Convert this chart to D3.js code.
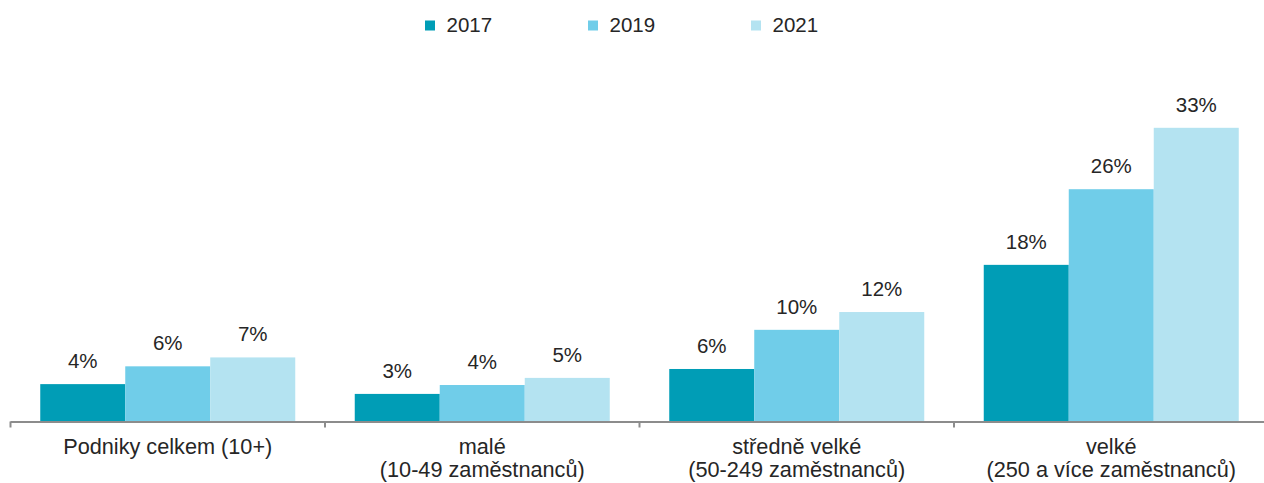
<!DOCTYPE html>
<html><head><meta charset="utf-8">
<script src="https://cdn.jsdelivr.net/npm/d3@7"></script>
<style>
html,body{margin:0;padding:0;background:#fff;}
svg{display:block;font-family:"Liberation Sans",Arial,sans-serif;}
</style></head>
<body>
<svg id="chart" width="1264" height="483"></svg>
<script>
const categories = [
  ["Podniky celkem (10+)"],
  ["malé", "(10-49 zaměstnanců)"],
  ["středně velké", "(50-249 zaměstnanců)"],
  ["velké", "(250 a více zaměstnanců)"]
];
const seriesNames = ["2017", "2019", "2021"];
const v2017 = [4.2, 3.1, 5.9, 17.6];
const v2019 = [6.2, 4.1, 10.3, 26.1];
const v2021 = [7.2, 4.9, 12.3, 33.0];
const seriesValues = [v2017, v2019, v2021];
const colors = ["#009db6", "#70cde9", "#b4e3f1"];

const svg = d3.select("#chart");
const textColor = "#262626";
const baseY = 421.5;

const catKeys = categories.map(c => c.join(" "));
const x0 = d3.scaleBand().domain(catKeys).range([10.5, 1268.5]).paddingInner(0).paddingOuter(0);
const x1 = d3.scaleBand().domain(seriesNames).range([0, x0.bandwidth()]).paddingInner(0).paddingOuter(0.35);
const y = d3.scaleLinear().domain([0, 35]).range([baseY, baseY - 35 * 8.9]);

const groups = svg.selectAll("g.grp").data(catKeys).join("g")
  .attr("class", "grp")
  .attr("transform", d => `translate(${x0(d)},0)`);

groups.each(function(cat, ci) {
  const g = d3.select(this);
  seriesNames.forEach((s, si) => {
    const v = seriesValues[si][ci];
    g.append("rect")
      .attr("x", x1(s))
      .attr("width", x1.bandwidth())
      .attr("y", y(v))
      .attr("height", y(0) - y(v))
      .attr("fill", colors[si]);
    g.append("text")
      .attr("x", x1(s) + x1.bandwidth() / 2)
      .attr("y", y(v) - 16)
      .attr("text-anchor", "middle")
      .attr("font-size", 20.5)
      .attr("fill", textColor)
      .text(Math.round(v) + "%");
  });
});

// axis line
svg.append("line")
  .attr("x1", x0.range()[0]).attr("x2", 1264)
  .attr("y1", baseY + 0.5).attr("y2", baseY + 0.5)
  .attr("stroke", "#8c8c8c").attr("stroke-width", 2);

// ticks at category boundaries
const tickXs = catKeys.map(c => x0(c)).concat([x0.range()[1]]);
svg.selectAll("line.tick").data(tickXs).join("line")
  .attr("class", "tick")
  .attr("x1", d => d).attr("x2", d => d)
  .attr("y1", baseY).attr("y2", baseY + 6)
  .attr("stroke", "#8c8c8c").attr("stroke-width", 2);

// category labels
categories.forEach((lines, ci) => {
  const cx = x0(catKeys[ci]) + x0.bandwidth() / 2;
  const t = svg.append("text")
    .attr("text-anchor", "middle")
    .attr("font-size", 21.7)
    .attr("fill", textColor);
  lines.forEach((ln, li) => {
    t.append("tspan").attr("x", cx).attr("y", 454 + li * 22.5).text(ln);
  });
});

// legend
const legendX = d3.scalePoint().domain(seriesNames).range([425, 751]);
const lg = svg.selectAll("g.leg").data(seriesNames).join("g")
  .attr("class", "leg")
  .attr("transform", d => `translate(${legendX(d)},0)`);
lg.append("rect").attr("x", 0).attr("y", 20.5).attr("width", 10).attr("height", 10)
  .attr("fill", (d, i) => colors[i]);
lg.append("text").attr("x", 21.5).attr("y", 32).attr("font-size", 20.5)
  .attr("fill", textColor).text(d => d);
</script>
</body></html>
